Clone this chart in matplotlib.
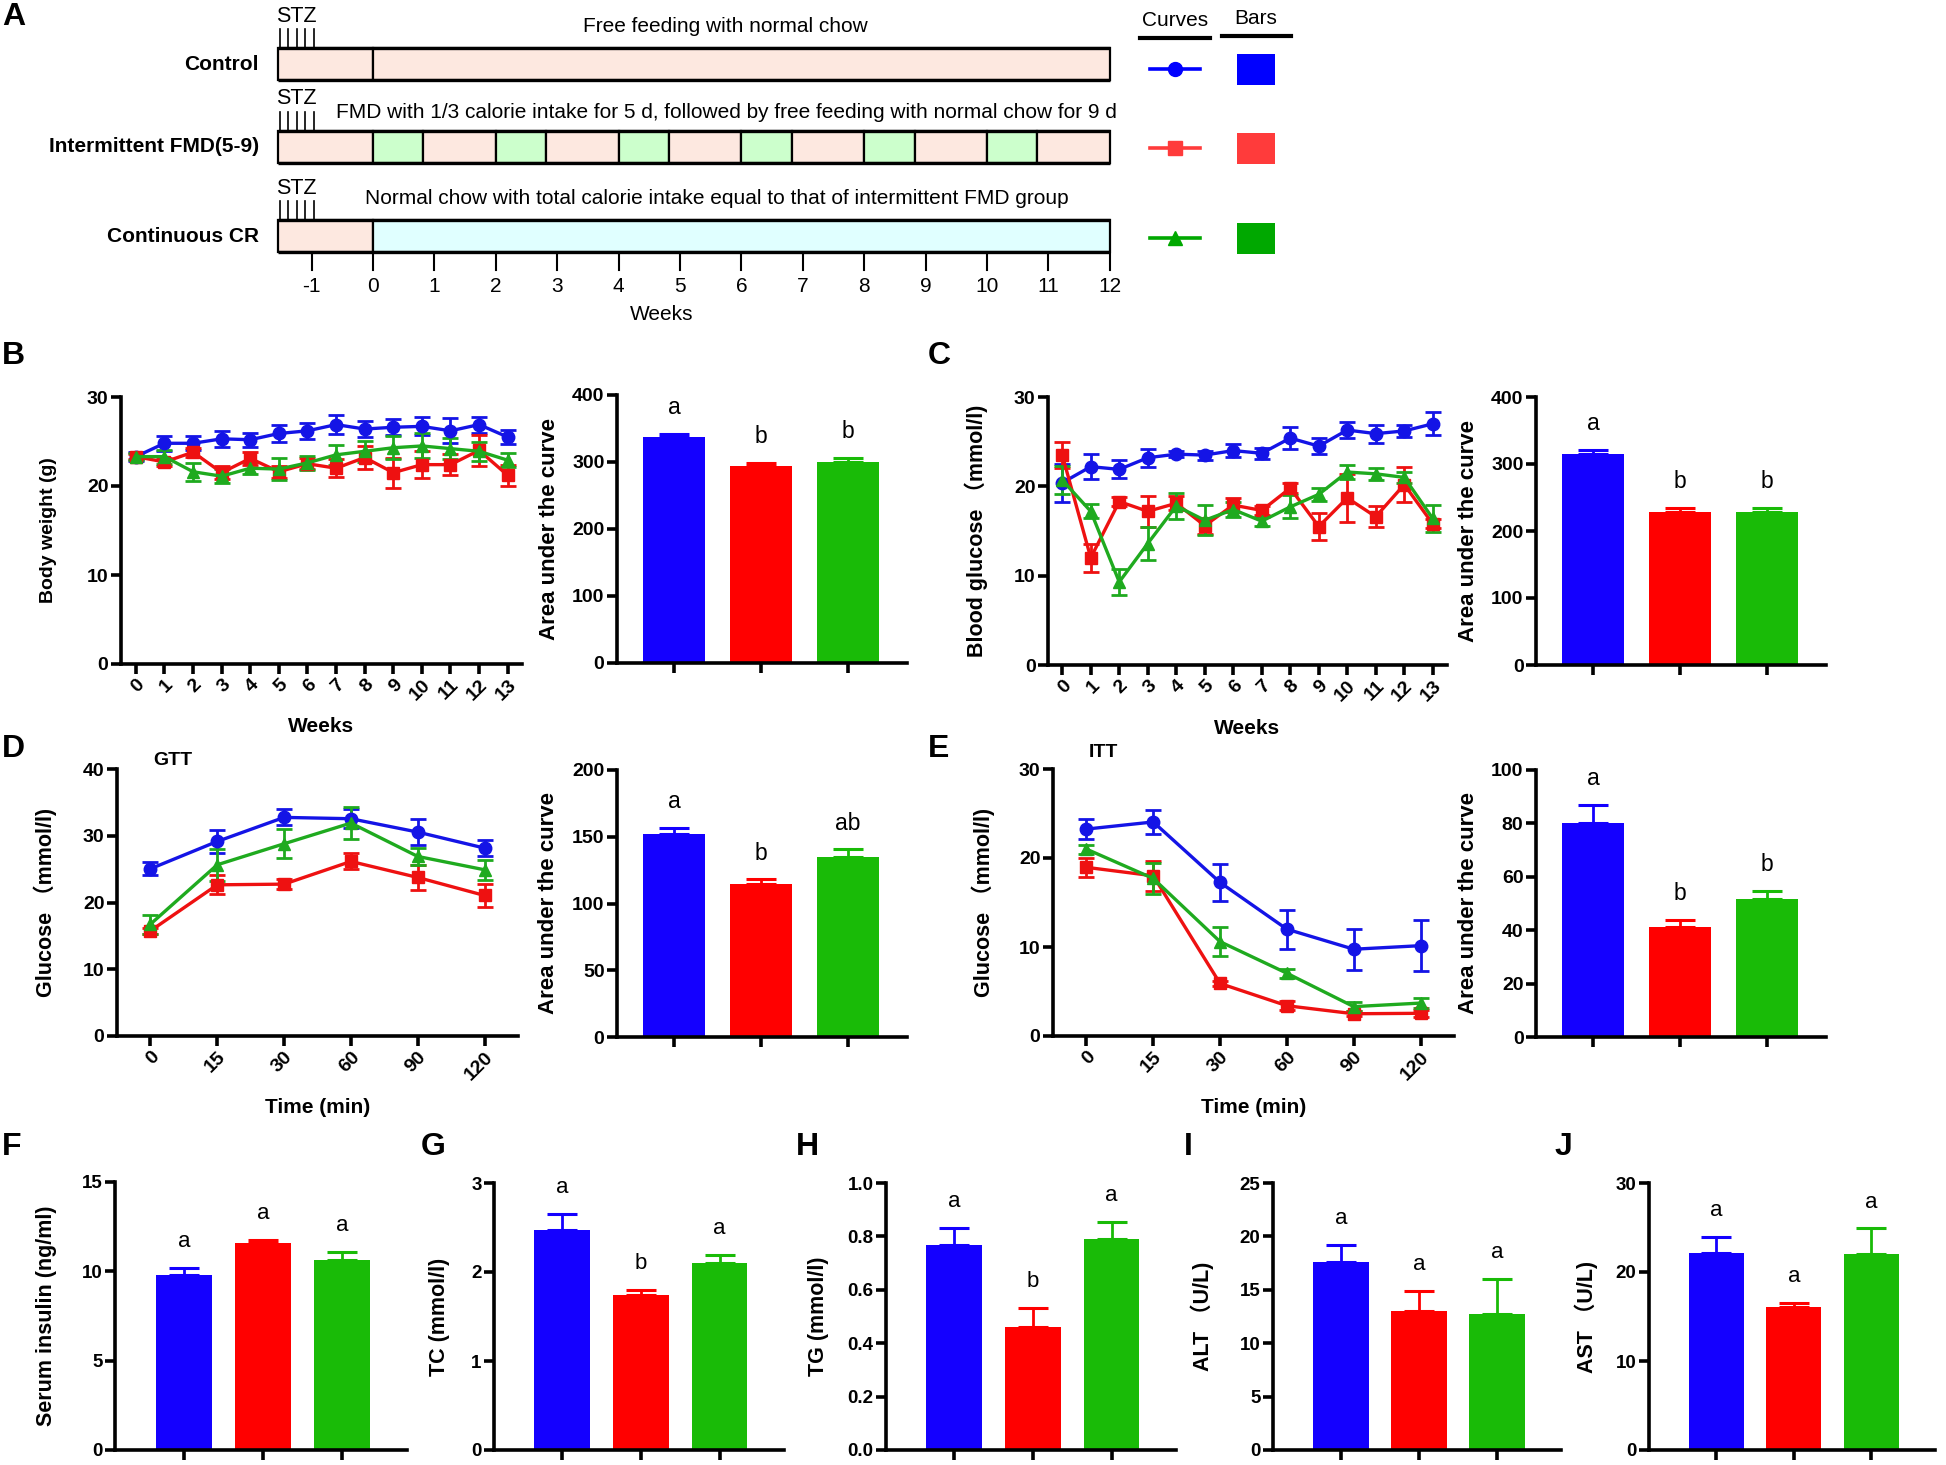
import numpy as np
import matplotlib.pyplot as plt
from matplotlib.patches import Rectangle

plt.rcParams["font.family"] = ["Liberation Sans", "Noto Sans CJK SC"]

# ---------------- data ----------------
groups = ["Control", "Intermittent FMD(5-9)", "Continuous CR"]
line_colors = ["#1414E6", "#EE1111", "#1FAA1F"]
bar_colors = ["#1400FF", "#FF0000", "#19BB07"]
legend_colors = ["#0000FF", "#FF3B3B", "#00A800"]
markers = ["o", "s", "^"]

# A: schedule (weeks)
sched_ticks = list(range(-1, 13))
fmd_starts = [0, 2, 4, 6, 8, 10]
fmd_len = 0.82
stz_inj = [-1.52, -1.38, -1.24, -1.10, -0.96]
descriptions = ["Free feeding with normal chow",
                "FMD with 1/3 calorie intake for 5 d, followed by free feeding with normal chow for 9 d",
                "Normal chow with total calorie intake equal to that of intermittent FMD group"]

# B: body weight
weeks = list(range(14))
bw_ctrl = [23.3, 24.8, 24.8, 25.3, 25.2, 25.9, 26.2, 26.9, 26.4, 26.6, 26.7, 26.2, 26.9, 25.5]
bw_ctrl_sd = [0.5, 0.85, 0.8, 0.9, 0.8, 0.9, 0.9, 1.1, 0.9, 0.9, 1.0, 1.4, 0.9, 0.8]
bw_fmd = [23.3, 22.7, 23.8, 21.5, 23.1, 21.6, 22.5, 22.0, 23.2, 21.5, 22.4, 22.4, 24.0, 21.2]
bw_fmd_sd = [0.3, 0.5, 0.5, 0.7, 0.7, 0.7, 0.6, 1.0, 1.3, 1.7, 1.5, 1.2, 1.7, 1.2]
bw_cr = [23.3, 23.3, 21.6, 21.1, 22.0, 21.9, 22.6, 23.5, 23.9, 24.3, 24.5, 24.2, 23.9, 22.9]
bw_cr_sd = [0.4, 0.8, 1.0, 0.8, 0.7, 1.2, 0.8, 1.1, 1.2, 1.3, 1.4, 1.2, 1.1, 0.8]
auc_bw = [337.7, 294.0, 300.4]
auc_bw_err = [4, 5, 5]
auc_bw_sig = ["a", "b", "b"]

# C: blood glucose
bg_ctrl = [20.4, 22.2, 21.9, 23.2, 23.6, 23.5, 24.0, 23.7, 25.4, 24.5, 26.3, 25.9, 26.2, 27.0]
bg_ctrl_sd = [2.1, 1.4, 1.0, 1.0, 0.3, 0.5, 0.7, 0.6, 1.2, 0.9, 0.9, 1.0, 0.7, 1.3]
bg_fmd = [23.5, 12.0, 18.3, 17.2, 18.1, 15.6, 17.9, 17.3, 19.8, 15.5, 18.7, 16.6, 20.2, 15.8]
bg_fmd_sd = [1.5, 1.6, 0.5, 1.7, 0.8, 0.9, 0.8, 0.5, 0.6, 1.5, 2.7, 1.2, 2.0, 0.5]
bg_cr = [20.7, 17.2, 9.3, 13.6, 17.8, 16.2, 17.4, 16.1, 17.7, 19.1, 21.6, 21.4, 21.0, 16.4]
bg_cr_sd = [1.6, 0.8, 1.5, 1.9, 1.5, 1.7, 0.8, 0.5, 1.3, 0.7, 0.8, 0.7, 0.6, 1.5]
auc_bg = [315.4, 228.4, 228.4]
auc_bg_err = [5, 6.5, 6]
auc_bg_sig = ["a", "b", "b"]

# D / E: GTT and ITT
time_labels = ["0", "15", "30", "60", "90", "120"]
gtt_ctrl = [25.05, 29.15, 32.75, 32.55, 30.55, 28.15]
gtt_ctrl_sd = [1.0, 1.7, 1.2, 1.4, 1.9, 1.2]
gtt_fmd = [15.75, 22.65, 22.75, 26.15, 23.75, 21.05]
gtt_fmd_sd = [0.5, 1.4, 0.8, 1.2, 1.9, 1.7]
gtt_cr = [16.75, 25.65, 28.8, 31.9, 26.9, 24.9]
gtt_cr_sd = [1.4, 2.4, 2.2, 2.4, 1.3, 1.5]
auc_gtt = [151.75, 114.25, 134.75]
auc_gtt_err = [4.75, 3.75, 5.75]
auc_gtt_sig = ["a", "b", "ab"]

itt_ctrl = [23.25, 24.05, 17.25, 12.0, 9.75, 10.15]
itt_ctrl_sd = [1.1, 1.3, 2.1, 2.2, 2.3, 2.85]
itt_fmd = [18.95, 18.0, 5.9, 3.4, 2.5, 2.55]
itt_fmd_sd = [1.1, 1.7, 0.3, 0.5, 0.3, 0.4]
itt_cr = [21.0, 17.7, 10.6, 7.05, 3.3, 3.7]
itt_cr_sd = [0.5, 1.7, 1.6, 0.5, 0.5, 0.6]
auc_itt = [80.3, 41.1, 51.6]
auc_itt_err = [6.6, 2.7, 3.2]
auc_itt_sig = ["a", "b", "b"]

# F-J: serum markers
insulin = [9.78, 11.59, 10.66]
insulin_err = [0.41, 0.15, 0.43]
insulin_sig = ["a", "a", "a"]
tc = [2.475, 1.736, 2.10]
tc_err = [0.18, 0.064, 0.094]
tc_sig = ["a", "b", "a"]
tg = [0.766, 0.4625, 0.79]
tg_err = [0.065, 0.069, 0.0625]
tg_sig = ["a", "b", "a"]
alt = [17.64, 12.98, 12.76]
alt_err = [1.58, 1.93, 3.23]
alt_sig = ["a", "a", "a"]
ast = [22.18, 16.03, 22.03]
ast_err = [1.79, 0.48, 2.87]
ast_sig = ["a", "a", "a"]

# ---------------- figure ----------------
W, H = 1946, 1465
fig = plt.figure(figsize=(W / 100, H / 100), dpi=100)

LW = 2.6


def px_axes(x0, x1, y0, y1):
    # box given in pixels from the top-left corner
    return fig.add_axes([x0 / W, 1 - y1 / H, (x1 - x0) / W, (y1 - y0) / H])


def prism(ax, ymax, ystep, yfmt="{:g}", fs=14):
    for s in ["top", "right"]:
        ax.spines[s].set_visible(False)
    for s in ["left", "bottom"]:
        ax.spines[s].set_linewidth(LW)
    ax.tick_params(width=LW, length=7, pad=2)
    ticks = np.arange(0, ymax + ystep / 2, ystep)
    ax.set_ylim(0, ymax)
    ax.set_yticks(ticks, [yfmt.format(t) for t in ticks], fontsize=fs, fontweight="bold")


def curve_panel(ax, xlabels, series, sds, ymax, ystep, ylabel, ylab_x, xlab_y, xlabel, xlim, ylab_size=15.5):
    x = np.arange(len(xlabels))
    for y, e, c, m in zip(series, sds, line_colors, markers):
        ax.errorbar(x, y, yerr=e, color=c, marker=m, markersize=9, lw=2.4,
                    elinewidth=2, capsize=5.5, capthick=2, clip_on=False, zorder=3)
    prism(ax, ymax, ystep)
    ax.set_xlim(*xlim)
    ax.set_xticks(x, xlabels, fontsize=14, fontweight="bold", rotation=45,
                  ha="right", rotation_mode="anchor")
    ax.set_ylabel(ylabel, fontsize=ylab_size, fontweight="bold")
    ax.yaxis.set_label_coords(ylab_x, 0.5)
    ax.set_xlabel(xlabel, fontsize=15, fontweight="bold")
    ax.xaxis.set_label_coords(0.5, xlab_y)


def bar_panel(ax, vals, errs, sig, ymax, ystep, ylabel, ylab_x, xlim, yfmt="{:g}",
              ylab_size=16, tick_fs=14, sig_fs=16.5):
    xs = np.arange(3)
    ax.bar(xs, vals, width=0.71, color=bar_colors, zorder=2)
    for xi, v, e, c, s in zip(xs, vals, errs, bar_colors, sig):
        ax.errorbar(xi, v, yerr=[[0], [e]], color=c, elinewidth=2, capsize=10.5,
                    capthick=2.2, zorder=1)
        ax.annotate(s, (xi, v + e), xytext=(0, 19), textcoords="offset points",
                    ha="center", va="center", fontsize=sig_fs)
    prism(ax, ymax, ystep, yfmt, fs=tick_fs)
    ax.set_xlim(*xlim)
    ax.set_xticks(xs, ["", "", ""])
    ax.set_ylabel(ylabel, fontsize=ylab_size, fontweight="bold")
    ax.yaxis.set_label_coords(ylab_x, 0.5)


# ---------------- panel A ----------------
axA = px_axes(0, W, 0, 330)


def wk(px):
    return (px - 373) / 61.4


axA.set_xlim(wk(0), wk(W))
axA.set_ylim(330, 0)
axA.axis("off")
pink, mint, cyan = "#FDE8E0", "#CCFFCC", "#E0FFFF"
row_top = [48, 131, 220]
bar_h = 32
bar_start = -1.55
for r, top in enumerate(row_top):
    axA.add_patch(Rectangle((bar_start, top), -bar_start, bar_h, fc=pink, ec="black", lw=1.6))
    if r == 0:
        axA.add_patch(Rectangle((0, top), 12, bar_h, fc=pink, ec="black", lw=1.6))
    elif r == 1:
        for s in fmd_starts:
            axA.add_patch(Rectangle((s, top), fmd_len, bar_h, fc=mint, ec="black", lw=1.6))
            axA.add_patch(Rectangle((s + fmd_len, top), 2 - fmd_len, bar_h, fc=pink, ec="black", lw=1.6))
    else:
        axA.add_patch(Rectangle((0, top), 12, bar_h, fc=cyan, ec="black", lw=1.6))
    axA.plot([bar_start, 12], [top, top], color="black", lw=2.4, solid_capstyle="butt")
    axA.plot([bar_start, 12], [top + bar_h, top + bar_h], color="black", lw=2.4, solid_capstyle="butt")
    axA.text(wk(259), top + bar_h / 2, groups[r], ha="right", va="center",
             fontsize=15, fontweight="bold")
    for s in stz_inj:
        axA.plot([s, s], [top - 19, top], color="black", lw=1.2)
    axA.text(wk(296), top - 32, "STZ", ha="center", va="center", fontsize=15.5)

axA.text(wk(725), 27, descriptions[0], ha="center", va="center", fontsize=15)
axA.text(wk(726), 112, descriptions[1], ha="center", va="center", fontsize=15)
axA.text(wk(717), 199, descriptions[2], ha="center", va="center", fontsize=15)

tick_top = row_top[2] + bar_h + 2
for t in sched_ticks:
    axA.plot([t, t], [tick_top, tick_top + 16], color="black", lw=1.5)
    axA.text(t, 287, str(t), ha="center", va="center", fontsize=15)
axA.text(4.7, 314, "Weeks", ha="center", va="center", fontsize=15)

# legend of panel A
axA.text(wk(1175), 21, "Curves", ha="center", va="center", fontsize=15)
axA.plot([wk(1140), wk(1210)], [38, 38], color="black", lw=3)
axA.text(wk(1256), 19, "Bars", ha="center", va="center", fontsize=15)
axA.plot([wk(1222), wk(1291)], [36, 36], color="black", lw=3)
for r, yc in enumerate([69, 148, 238]):
    axA.plot([wk(1150), wk(1200)], [yc, yc], color=legend_colors[r], lw=2.6)
    axA.plot([wk(1175)], [yc], marker=markers[r], color=legend_colors[r], markersize=10)
    axA.add_patch(Rectangle((wk(1237), yc - 15), wk(1275) - wk(1237), 31,
                            fc=legend_colors[r], ec="none"))

# ---------------- panels B-E ----------------
axB = px_axes(121, 522, 397, 664)
curve_panel(axB, [str(w) for w in weeks], [bw_ctrl, bw_fmd, bw_cr],
            [bw_ctrl_sd, bw_fmd_sd, bw_cr_sd], 30, 10, "Body weight (g)",
            -0.16, -0.2, "Weeks", (-0.52, 13.5), ylab_size=14)
axBb = px_axes(617, 907, 395, 663)
bar_panel(axBb, auc_bw, auc_bw_err, auc_bw_sig, 400, 100, "Area under the curve",
          -0.197, (-0.66, 2.68))

axC = px_axes(1048, 1447, 397, 665)
curve_panel(axC, [str(w) for w in weeks], [bg_ctrl, bg_fmd, bg_cr],
            [bg_ctrl_sd, bg_fmd_sd, bg_cr_sd], 30, 10, "Blood glucose （mmol/l)",
            -0.15, -0.2, "Weeks", (-0.5, 13.5))
axCb = px_axes(1536, 1826, 397, 665)
bar_panel(axCb, auc_bg, auc_bg_err, auc_bg_sig, 400, 100, "Area under the curve",
          -0.197, (-0.66, 2.68))

axD = px_axes(117, 518, 769, 1036)
curve_panel(axD, time_labels, [gtt_ctrl, gtt_fmd, gtt_cr],
            [gtt_ctrl_sd, gtt_fmd_sd, gtt_cr_sd], 40, 10, "Glucose （mmol/l)",
            -0.15, -0.232, "Time (min)", (-0.5, 5.5))
axD.text(0.14, 1.03, "GTT", transform=axD.transAxes, ha="center", va="center",
         fontsize=14, fontweight="bold")
axDb = px_axes(617, 907, 770, 1037)
bar_panel(axDb, auc_gtt, auc_gtt_err, auc_gtt_sig, 200, 50, "Area under the curve",
          -0.2, (-0.66, 2.68))

axE = px_axes(1053, 1454, 769, 1036)
curve_panel(axE, time_labels, [itt_ctrl, itt_fmd, itt_cr],
            [itt_ctrl_sd, itt_fmd_sd, itt_cr_sd], 30, 10, "Glucose （mmol/l)",
            -0.145, -0.232, "Time (min)", (-0.5, 5.5))
axE.text(0.127, 1.06, "ITT", transform=axE.transAxes, ha="center", va="center",
         fontsize=14, fontweight="bold")
axEb = px_axes(1536, 1826, 770, 1037)
bar_panel(axEb, auc_itt, auc_itt_err, auc_itt_sig, 100, 20, "Area under the curve",
          -0.197, (-0.66, 2.68))

# ---------------- panels F-J ----------------
fj_lim = (-0.87, 2.82)
fj = dict(ylab_size=15.5, tick_fs=13.5, sig_fs=16)
axF = px_axes(115, 407, 1182, 1450)
bar_panel(axF, insulin, insulin_err, insulin_sig, 15, 5, "Serum insulin (ng/ml)", -0.2, fj_lim, **fj)
axG = px_axes(494, 784, 1183, 1450)
bar_panel(axG, tc, tc_err, tc_sig, 3, 1, "TC (mmol/l)", -0.152, fj_lim, **fj)
axH = px_axes(886, 1176, 1183, 1450)
bar_panel(axH, tg, tg_err, tg_sig, 1.0, 0.2, "TG (mmol/l)", -0.197, fj_lim, yfmt="{:.1f}", **fj)
axI = px_axes(1273, 1561, 1183, 1450)
bar_panel(axI, alt, alt_err, alt_sig, 25, 5, "ALT （U/L)", -0.205, fj_lim, **fj)
axJ = px_axes(1649, 1935, 1183, 1450)
bar_panel(axJ, ast, ast_err, ast_sig, 30, 10, "AST （U/L)", -0.18, fj_lim, **fj)

# panel letters
for lab, x, y in [("A", 2, 17), ("B", 2, 356), ("C", 928, 356), ("D", 2, 749),
                  ("E", 928, 749), ("F", 2, 1147), ("G", 421, 1147), ("H", 796, 1147),
                  ("I", 1184, 1147), ("J", 1555, 1147)]:
    fig.text(x / W, 1 - y / H, lab, ha="left", va="center", fontsize=23, fontweight="bold")

fig.savefig("out.png", dpi=100)
